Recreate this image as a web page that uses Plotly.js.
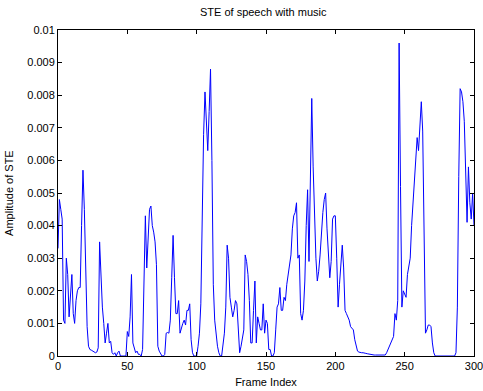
<!DOCTYPE html>
<html>
<head>
<meta charset="utf-8">
<script src="https://cdn.plot.ly/plotly-3.0.1.min.js"></script>
<style>html,body{margin:0;padding:0;background:#fff;}#chart{width:483px;height:391px;}</style>
</head>
<body>
<div id="chart"></div>
<script>
const frameIndex = [];
for (let i = 0; i <= 300; i++) frameIndex.push(i);

const steValues = [
  0.0033, 0.0048, 0.0045, 0.0042, 0.0011, 0.0010, 0.0030, 0.0025, 0.0012, 0.0018,
  0.0025, 0.0013, 0.0010, 0.0017, 0.0020, 0.0021, 0.0021, 0.0040, 0.0057, 0.0045,
  0.0022, 0.0009, 0.0003, 0.0002, 0.00018, 0.00015, 0.00013, 0.0001, 0.00012, 0.00025,
  0.0035, 0.0022, 0.0015, 0.0010, 0.0004, 0.0007, 0.0010, 0.0004, 0.00045, 0.0001,
  0.00005, 0.0001, 0.0, 0.0001, 0.00015, 0.0, 0.0, 0.0, 0.0, 0.0,
  0.00075, 0.0006, 0.0012, 0.0025, 0.0004, 0.0002, 0.0001, 0.00015, 0.00005, 0.00005,
  0.0, 0.0002, 0.0025, 0.0043, 0.0027, 0.0036, 0.0045, 0.0046, 0.0040, 0.0038,
  0.0035, 0.0028, 0.0003, 0.00015, 0.00005, 0.0, 0.0, 0.00005, 0.0007, 0.00072,
  0.0007, 0.0011, 0.0024, 0.0037, 0.0024, 0.0013, 0.0013, 0.0017, 0.0007, 0.0009,
  0.0010, 0.0011, 0.00095, 0.0014, 0.0014, 0.0016, 0.0005, 0.0001, 0.0, 0.0,
  0.0, 0.0003, 0.0007, 0.0016, 0.0045, 0.0068, 0.0081, 0.0073, 0.0063, 0.0075,
  0.0088, 0.0060, 0.0022, 0.0011, 0.0006, 0.0003, 0.0001, 0.0, 0.0, 0.0003,
  0.0007, 0.0015, 0.0034, 0.0030, 0.0018, 0.0015, 0.0012, 0.0014, 0.0017, 0.0016,
  0.0006, 0.0001, 0.0003, 0.0005, 0.0008, 0.0031, 0.0029, 0.0025, 0.0017, 0.0004,
  0.0004, 0.0014, 0.0023, 0.0004, 0.0012, 0.0010, 0.0008, 0.0008, 0.0016, 0.0007,
  0.0011, 0.0010, 0.0002, 0.0002, 0.0, 0.0, 0.0001, 0.0008, 0.0015, 0.0016,
  0.0021, 0.0014, 0.0014, 0.0018, 0.0017, 0.0022, 0.0025, 0.0028, 0.0031, 0.0039,
  0.0043, 0.0044, 0.0047, 0.0030, 0.0031, 0.0013, 0.0011, 0.0014, 0.0023, 0.0040,
  0.0051, 0.0029, 0.0052, 0.0079, 0.0058, 0.0040, 0.0030, 0.0023, 0.0026, 0.0031,
  0.0038, 0.0044, 0.0048, 0.0050, 0.0039, 0.0029, 0.0024, 0.0029, 0.0042, 0.0043,
  0.0043, 0.0030, 0.0015, 0.0022, 0.0030, 0.0034, 0.0027, 0.0014, 0.0013, 0.0012,
  0.0011, 0.0009, 0.00085, 0.0008, 0.0005, 0.0003, 0.00015, 0.00012, 0.0001, 0.0001,
  0.0001, 0.00008, 0.00008, 0.00007, 0.00006, 0.00004, 0.00003, 0.00003, 0.00003, 0.00003,
  0.00003, 0.00003, 0.00003, 0.00003, 0.00003, 0.00003, 0.00003, 0.0001, 0.0002, 0.0003,
  0.00045, 0.0005, 0.0006, 0.0013, 0.0011, 0.0017, 0.0096, 0.0052, 0.0015, 0.0020,
  0.0019, 0.0018, 0.0025, 0.0028, 0.0030, 0.0040, 0.0046, 0.0052, 0.0060, 0.0067,
  0.0063, 0.0072, 0.0078, 0.0069, 0.0031, 0.0007, 0.0008, 0.00095, 0.00095, 0.0009,
  0.0004, 0.0001, 0.0, 0.0, 0.0, 0.0, 0.0, 0.0, 0.0, 0.0,
  0.0, 0.0, 0.0, 0.0, 0.0, 0.0, 0.0, 0.0001, 0.0015, 0.0055,
  0.0082, 0.0081, 0.0078, 0.0072, 0.0055, 0.0041, 0.0058, 0.0047, 0.0042, 0.0050,
  0.0040
];

const xTicks = [0, 50, 100, 150, 200, 250, 300];
const yTickVals = [0, 0.001, 0.002, 0.003, 0.004, 0.005, 0.006, 0.007, 0.008, 0.009, 0.01];
const yTickText = ['0', '0.001', '0.002', '0.003', '0.004', '0.005', '0.006', '0.007', '0.008', '0.009', '0.01'];

const trace = {
  x: frameIndex,
  y: steValues,
  type: 'scatter',
  mode: 'lines',
  line: {color: '#0000ff', width: 1},
  hoverinfo: 'skip'
};

const fontFam = 'Liberation Sans, Arial, sans-serif';

const axisCommon = {
  showgrid: false,
  zeroline: false,
  showline: true,
  linecolor: '#000',
  linewidth: 1,
  mirror: 'ticks',
  ticks: 'inside',
  ticklen: 4,
  tickcolor: '#000',
  ticklabeloverflow: 'allow',
  tickfont: {family: fontFam, size: 11, color: '#000'}
};

const layout = {
  width: 483,
  height: 391,
  margin: {l: 58, r: 9, t: 30, b: 35},
  paper_bgcolor: '#fff',
  plot_bgcolor: '#fff',
  showlegend: false,
  title: {
    text: 'STE of speech with music',
    font: {family: fontFam, size: 11, color: '#000'},
    x: 0.545, xanchor: 'center', y: 0.97, yanchor: 'middle'
  },
  xaxis: Object.assign({}, axisCommon, {
    range: [0, 300],
    tickvals: xTicks,
    ticktext: xTicks.map(String),
    title: {text: 'Frame Index', font: {family: fontFam, size: 11, color: '#000'}, standoff: 7}
  }),
  yaxis: Object.assign({}, axisCommon, {
    range: [0, 0.01],
    tickvals: yTickVals,
    ticktext: yTickText
  }),
  annotations: [{
    text: 'Amplitude of STE',
    xref: 'paper', yref: 'paper',
    x: -0.118, y: 0.5,
    xanchor: 'center', yanchor: 'middle',
    textangle: -90,
    showarrow: false,
    font: {family: fontFam, size: 11, color: '#000'}
  }]
};

Plotly.newPlot('chart', [trace], layout, {displayModeBar: false, staticPlot: true});
</script>
</body>
</html>
